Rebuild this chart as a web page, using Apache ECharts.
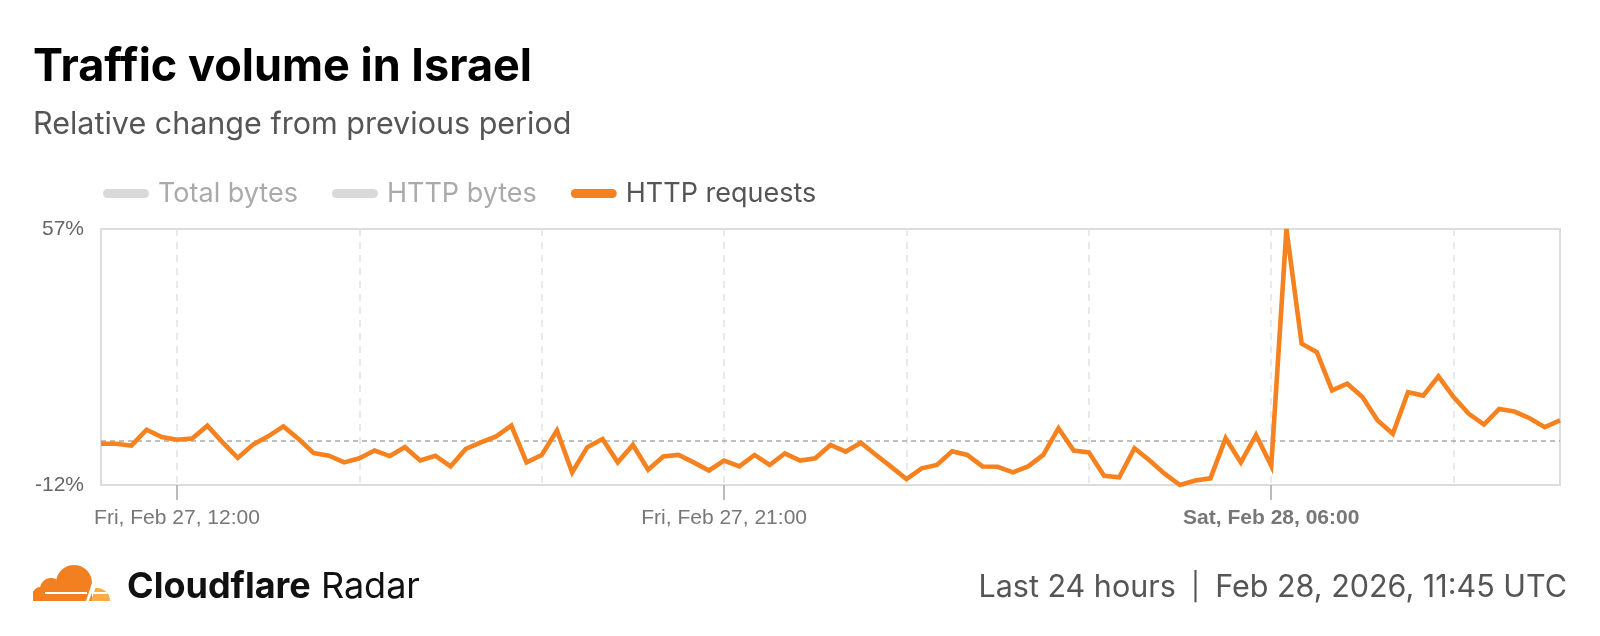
<!DOCTYPE html>
<html>
<head>
<meta charset="utf-8">
<script src="https://cdn.jsdelivr.net/npm/echarts@6/dist/echarts.min.js"></script>
<style>
html,body{margin:0;padding:0;background:#fff;}
#chart{width:1600px;height:636px;}
</style>
</head>
<body>
<div id="chart"></div>
<script>
// ---- data ----
const legendNames = ['Total bytes', 'HTTP bytes', 'HTTP requests'];
// 15-minute steps, Fri Feb 27 10:45 UTC -> Sat Feb 28 10:45 UTC
const startDay = ['Fri, Feb 27', 'Sat, Feb 28'];
const categories = [];
for (let k = 0; k < 97; k++) {
  const mins = 10 * 60 + 45 + k * 15;
  const day = mins >= 24 * 60 ? 1 : 0;
  const m = mins % (24 * 60);
  const hh = String(Math.floor(m / 60)).padStart(2, '0');
  const mm = String(m % 60).padStart(2, '0');
  categories.push(startDay[day] + ', ' + hh + ':' + mm);
}
const httpRequests = [
  -0.9, -0.9, -1.4, 2.9, 0.9, 0.2, 0.5, 4.0, -0.5, -4.7,
  -1.1, 1.1, 3.8, 0.4, -3.4, -4.1, -5.9, -4.8, -2.7, -4.2,
  -1.8, -5.4, -4.1, -7.0, -2.3, -0.5, 1.1, 4.0, -5.9, -3.9,
  2.7, -8.6, -1.8, 0.4, -5.9, -1.2, -7.9, -4.3, -3.9, -5.9,
  -8.1, -5.4, -7.0, -3.9, -6.6, -3.5, -5.4, -4.8, -1.2, -3.0,
  -0.6, -3.9, -7.1, -10.4, -7.5, -6.6, -2.9, -3.9, -7.0, -7.1,
  -8.6, -7.0, -3.9, 3.3, -2.7, -3.2, -9.5, -9.9, -2.1, -5.4,
  -9.0, -12.0, -10.8, -10.2, 0.6, -5.9, 1.5, -6.8, 57.0, 26.1,
  23.8, 13.5, 15.3, 11.7, 5.4, 1.8, 13.0, 12.1, 17.3, 11.7,
  7.2, 4.3, 8.5, 7.8, 6.0, 3.6, 5.4
];
const xTickLabels = ['Fri, Feb 27, 12:00', 'Fri, Feb 27, 21:00', 'Sat, Feb 28, 06:00'];
const gridTimes = ['12:00', '15:00', '18:00', '21:00', '00:00', '03:00', '06:00', '09:00'];
const yTickValues = [-12, 57];
const yMin = -12, yMax = 57;
const titleText = 'Traffic volume in Israel';
const subtitleText = 'Relative change from previous period';
const footerLeft = 'Last 24 hours';
const footerDate = 'Feb 28, 2026, 11:45 UTC';

// ---- chart ----
const chart = echarts.init(document.getElementById('chart'), null, {renderer: 'canvas'});
const FONT = 'Inter, "Noto Sans", sans-serif';
const LABEL_FONT = '"Liberation Sans", Arial, sans-serif';
const CAPSULE = 'path://M4.5,0 L41.5,0 A4.5,4.5 0 0 1 41.5,9 L4.5,9 A4.5,4.5 0 0 1 4.5,0 Z';

const isLabeled = (i) => xTickLabels.indexOf(categories[i]) >= 0;
const isGrid = (i) => gridTimes.indexOf(categories[i].slice(-5)) >= 0;

chart.setOption({
  animation: false,
  backgroundColor: '#fff',
  textStyle: {fontFamily: FONT},
  legend: {
    left: 98, top: 175,
    icon: CAPSULE,
    itemWidth: 46, itemHeight: 9, itemGap: 34,
    textStyle: {fontSize: 27, fontFamily: FONT, color: '#555', padding: [0, 0, 0, 4]},
    selectedMode: false,
    data: [
      {name: legendNames[0], textStyle: {color: '#aaa'}},
      {name: legendNames[1], textStyle: {color: '#aaa'}},
      {name: legendNames[2], textStyle: {color: '#555'}}
    ]
  },
  grid: {
    left: 101, right: 40, top: 229, bottom: 151,
    show: true, borderColor: '#dcdcdc', borderWidth: 2,
    containLabel: false
  },
  xAxis: {
    type: 'category',
    data: categories,
    boundaryGap: false,
    axisLine: {show: false, onZero: false},
    axisTick: {
      show: true, interval: (i) => isLabeled(i), length: 15,
      lineStyle: {color: '#bbb', width: 2}
    },
    axisLabel: {
      interval: (i) => isLabeled(i),
      margin: 23,
      fontSize: 21, color: '#777', fontFamily: LABEL_FONT,
      formatter: (v) => v.indexOf('Sat') === 0 ? '{b|' + v + '}' : v,
      rich: {b: {fontWeight: 'bold', fontSize: 21, color: '#777', fontFamily: LABEL_FONT}}
    },
    splitLine: {
      show: true, interval: (i) => isGrid(i),
      lineStyle: {color: '#e2e2e2', type: [7, 6], width: 1.5}
    }
  },
  yAxis: {
    type: 'value',
    min: yMin, max: yMax,
    axisLine: {show: false},
    axisTick: {show: false},
    splitLine: {show: false},
    axisLabel: {
      customValues: yTickValues,
      formatter: (v) => v + '%',
      fontSize: 21, color: '#666', margin: 17, fontFamily: LABEL_FONT
    }
  },
  series: [
    {name: legendNames[0], type: 'line', data: [], color: '#d9d9d9', showSymbol: false},
    {name: legendNames[1], type: 'line', data: [], color: '#d9d9d9', showSymbol: false},
    {
      name: legendNames[2], type: 'line', data: httpRequests,
      color: '#f6821f', showSymbol: false, symbol: 'none', clip: false,
      lineStyle: {width: 4.6, color: '#f6821f', join: 'miter'},
      markLine: {
        silent: true, symbol: 'none', label: {show: false},
        lineStyle: {color: '#aaa', type: [5, 4], width: 1.5},
        data: [{yAxis: 0}],
        z: 1
      },
      z: 3
    }
  ],
  graphic: [
    {type: 'text', left: 33, top: 45, style: {text: titleText, fontSize: 45, fontWeight: 'bold', fill: '#000', fontFamily: FONT}},
    {type: 'text', left: 33, top: 109, style: {text: subtitleText, fontSize: 30.5, fill: '#555', fontFamily: FONT}},
    {
      type: 'group', left: 33, top: 565,
      children: [
        {type: 'circle', shape: {cx: 43, cy: 19, r: 18}, style: {fill: '#f38020'}},
        {type: 'circle', shape: {cx: 20, cy: 25, r: 11}, style: {fill: '#f38020'}},
        {type: 'circle', shape: {cx: 9, cy: 30, r: 7}, style: {fill: '#f38020'}},
        {type: 'rect', shape: {x: 2, y: 27, width: 59, height: 10}, style: {fill: '#f38020'}},
        {type: 'line', shape: {x1: 14, y1: 29, x2: 56, y2: 29}, style: {stroke: '#fff', lineWidth: 2.2}},
        {type: 'polygon', shape: {points: [[55, 37], [61, 19], [64, 19], [58, 37]]}, style: {fill: '#fff'}},
        {type: 'sector', shape: {cx: 66, cy: 37, r0: 0, r: 13, startAngle: -Math.PI / 2, endAngle: 0, clockwise: true}, style: {fill: '#fbad41'}},
        {type: 'polygon', shape: {points: [[60, 37], [66.5, 37], [66.5, 24], [64.5, 24]]}, style: {fill: '#fbad41'}},
        {type: 'line', shape: {x1: 60, y1: 29, x2: 76, y2: 29}, style: {stroke: '#fff', lineWidth: 2}}
      ]
    },
    {
      type: 'text', left: 127, top: 569,
      style: {
        text: '{b|Cloudflare}{r| Radar}',
        rich: {
          b: {fontSize: 36, fontWeight: 'bold', fill: '#111', fontFamily: FONT},
          r: {fontSize: 36, fill: '#111', fontFamily: FONT}
        }
      }
    },
    {
      type: 'text', right: 33, top: 572,
      style: {
        text: '{t|' + footerLeft + '}{p|  |  }{t|' + footerDate + '}',
        rich: {
          t: {fontSize: 30.5, fill: '#555', fontFamily: FONT},
          p: {fontSize: 27, fill: '#555', fontFamily: FONT}
        }
      }
    }
  ]
});
</script>
</body>
</html>
